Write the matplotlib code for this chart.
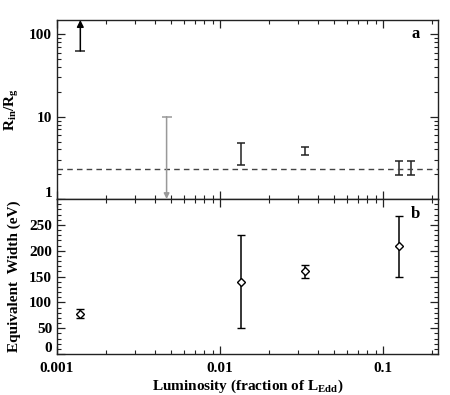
import matplotlib
matplotlib.use("Agg")
import matplotlib.pyplot as plt
import matplotlib.transforms as mtransforms
import numpy as np
from matplotlib.ticker import NullFormatter, MultipleLocator

plt.rcParams['font.family'] = ['Liberation Serif', 'DejaVu Serif']
plt.rcParams['font.weight'] = 'bold'
plt.rcParams['mathtext.fontset'] = 'custom'
plt.rcParams['mathtext.rm'] = 'Liberation Serif:bold'
plt.rcParams['mathtext.it'] = 'Liberation Serif:bold'
plt.rcParams['mathtext.bf'] = 'Liberation Serif:bold'

# panel a: inner radius
lum_a = [0.0135, 0.033, 0.1256, 0.149]
rin_lo = [2.6, 3.45, 1.97, 1.97]
rin_hi = [4.8, 4.3, 2.9, 2.9]
lowlim_x = 0.00139
lowlim_val = 63
uplim_x = 0.0047
uplim_val = 10
rin_isco = 2.3

# panel b: equivalent width
lum_b = [0.00139, 0.0135, 0.033, 0.1256]
ew = [77, 140, 160, 210]
ew_lo = [69, 50, 147, 150]
ew_hi = [88, 230, 173, 268]

xlim = (0.001, 0.217)

fig = plt.figure(figsize=(4.5, 3.95), dpi=100)
ax1 = fig.add_axes([57/450, 1-199/395, 381/450, 179/395])
ax2 = fig.add_axes([57/450, 1-354/395, 381/450, 155/395])

ink = '#222222'

# top panel
ax1.set_xscale('log')
ax1.set_yscale('log')
ax1.set_xlim(*xlim)
ax1.set_ylim(1, 150)
lum_a = np.array(lum_a)
mid = np.sqrt(np.array(rin_lo) * np.array(rin_hi))
yerr = [mid - np.array(rin_lo), np.array(rin_hi) - mid]
ax1.errorbar(lum_a, mid, yerr=yerr, fmt='none', ecolor=ink, elinewidth=1.1,
             capsize=3, capthick=1.1)
ax1.axhline(rin_isco, color='#444444', ls=(0, (4, 3)), lw=1.0)

# lower limit (black arrow up)
ax1.annotate('', xy=(lowlim_x, 150), xytext=(lowlim_x, lowlim_val),
             arrowprops=dict(arrowstyle='-|>', color='black', lw=1.1,
                             mutation_scale=10, shrinkA=0, shrinkB=0))
ax1.plot([lowlim_x], [lowlim_val], marker='_', ms=7, mew=1.1, color=ink)
# upper limit (gray arrow down)
ax1.annotate('', xy=(uplim_x, 1.0), xytext=(uplim_x, uplim_val),
             arrowprops=dict(arrowstyle='-|>', color='#999999', lw=1.1,
                             mutation_scale=8, shrinkA=0, shrinkB=0))
ax1.plot([uplim_x], [uplim_val], marker='_', ms=7, mew=1.1, color='#999999')

ax1.set_yticks([1, 10, 100])
ax1.set_yticklabels(['1', '10', '100'])
ax1.xaxis.set_major_formatter(NullFormatter())
ax1.xaxis.set_minor_formatter(NullFormatter())
ax1.yaxis.set_minor_formatter(NullFormatter())
ax1.set_ylabel(r'R$_{\rm in}$/R$_{\rm g}$', fontsize=11, fontweight='bold')
ax1.yaxis.set_label_coords(-0.095, 0.5)
ax1.text(0.94, 0.92, 'a', transform=ax1.transAxes, fontsize=12,
         fontweight='bold', ha='center', va='center')

# bottom panel
ax2.set_xscale('log')
ax2.set_xlim(*xlim)
ax2.set_ylim(0, 300)
ew = np.array(ew)
yerr_b = [ew - np.array(ew_lo), np.array(ew_hi) - ew]
ax2.errorbar(lum_b, ew, yerr=yerr_b, fmt='D', ms=4, mfc='white', mec='black',
             mew=1.0, ecolor='black', elinewidth=1.1, capsize=3, capthick=1.1)
ax2.set_yticks([0, 50, 100, 150, 200, 250])
ax2.yaxis.set_minor_locator(MultipleLocator(10))
ax2.set_xticks([0.001, 0.01, 0.1])
ax2.set_xticklabels(['0.001', '0.01', '0.1'])
ax2.xaxis.set_minor_formatter(NullFormatter())
ax2.set_ylabel('Equivalent  Width (eV)', fontsize=11, fontweight='bold')
ax2.yaxis.set_label_coords(-0.095, 0.5)
ax2.set_xlabel(r'Luminosity (fraction of L$_{\rm Edd}$)', fontsize=11,
               fontweight='bold', labelpad=2)
ax2.text(0.94, 0.90, 'b', transform=ax2.transAxes, fontsize=12,
         fontweight='bold', ha='center', va='center')

for ax in (ax1, ax2):
    ax.tick_params(which='both', direction='in', top=True, right=True,
                   labelsize=11, color=ink)
    ax.tick_params(which='major', length=6, width=0.9)
    ax.tick_params(which='minor', length=3, width=0.8)
    ax.tick_params(axis='x', which='major', pad=6)
    for s in ax.spines.values():
        s.set_linewidth(1.0)
        s.set_color(ink)
    for lab in ax.get_xticklabels() + ax.get_yticklabels():
        lab.set_fontweight('bold')

# lift the bottom-most y labels a little, as in the original
lift = mtransforms.ScaledTranslation(0, 5/72, fig.dpi_scale_trans)
for ax in (ax1, ax2):
    first = ax.yaxis.get_major_ticks()[0].label1
    first.set_transform(first.get_transform() + lift)

fig.savefig('out.png', dpi=100)
